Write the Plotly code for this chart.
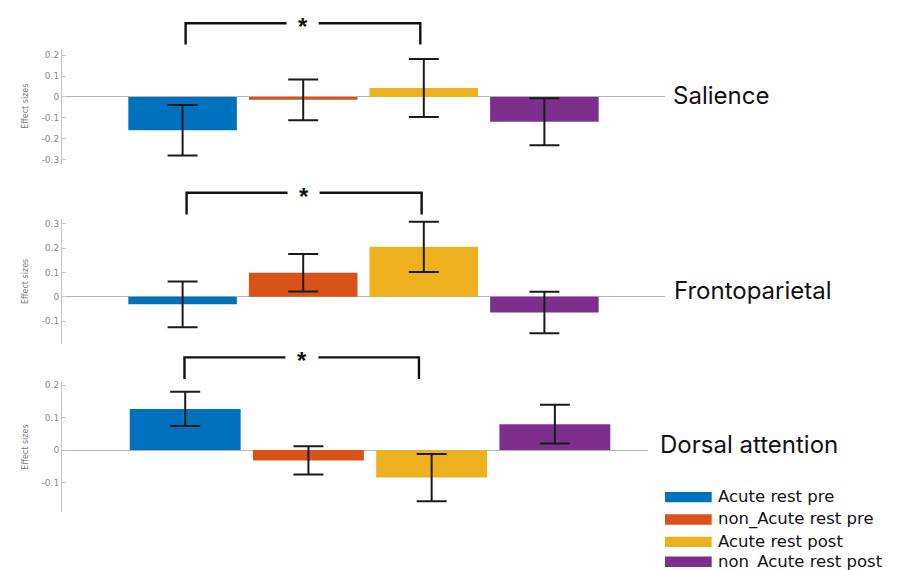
import plotly.graph_objects as go

W, H = 911, 570

# ---------------- data ----------------
groups = ["Acute rest pre", "non_Acute rest pre", "Acute rest post", "non_Acute rest post"]
legend_labels = ["Acute rest pre", "non_Acute rest pre", "Acute rest post", "non_Acute rest post"]
colors = ["#0072BD", "#D95319", "#EDB120", "#7E2F8E"]
networks = ["Salience", "Frontoparietal", "Dorsal attention"]

salience_vals = [-0.160, -0.014, 0.043, -0.119]
salience_err = [0.121, 0.098, 0.139, 0.113]
fronto_vals = [-0.031, 0.099, 0.205, -0.065]
fronto_err = [0.094, 0.077, 0.103, 0.085]
dorsal_vals = [0.127, -0.032, -0.085, 0.080]
dorsal_err = [0.053, 0.0435, 0.073, 0.060]

salience_ticks = [0.2, 0.1, 0, -0.1, -0.2, -0.3]
fronto_ticks = [0.3, 0.2, 0.1, 0, -0.1]
dorsal_ticks = [0.2, 0.1, 0, -0.1]

significance = ["*", "*", "*"]
# ---------------------------------------

def px_x(p):
    return p / W

def px_y(p):
    return 1 - p / H

panels = [
    dict(name=networks[0], vals=salience_vals, err=salience_err, ticks=salience_ticks,
         xdom=(62, 665), ydom=(47, 162.7), yrange=(-0.321, 0.231), xrange=(-1, 4),
         label_x=672.5, label_y=94,
         br=dict(xl=0.025, xr=1.971, gl=0.862, gr=1.128, sx=0.995, ytop=21.3, ybot=42.7)),
    dict(name=networks[1], vals=fronto_vals, err=fronto_err, ticks=fronto_ticks,
         xdom=(62, 665), ydom=(218, 344), yrange=(-0.195, 0.320), xrange=(-1, 4),
         label_x=673, label_y=290.5,
         br=dict(xl=0.033, xr=1.982, gl=0.87, gr=1.136, sx=1.003, ytop=191.7, ybot=213.5)),
    dict(name=networks[2], vals=dorsal_vals, err=dorsal_err, ticks=dorsal_ticks,
         xdom=(62, 648), ydom=(382, 513), yrange=(-0.192, 0.210), xrange=(-1, 3.756),
         label_x=659.3, label_y=445.3,
         br=dict(xl=-0.006, xr=1.897, gl=0.813, gr=1.081, sx=0.949, ytop=357.3, ybot=379)),
]

fig = go.Figure()
shapes = []
annotations = []
layout_axes = {}

for i, p in enumerate(panels):
    n = i + 1
    xa = "x" if n == 1 else f"x{n}"
    ya = "y" if n == 1 else f"y{n}"
    xkey = "xaxis" if n == 1 else f"xaxis{n}"
    ykey = "yaxis" if n == 1 else f"yaxis{n}"

    fig.add_trace(go.Bar(
        x=list(range(len(groups))), y=p["vals"],
        marker=dict(color=colors, line=dict(width=0)),
        error_y=dict(type="data", array=p["err"], color="#1a1a1a", thickness=2, width=15),
        xaxis=xa, yaxis=ya, showlegend=False, name=p["name"],
        hovertext=groups,
    ))

    layout_axes[xkey] = dict(
        domain=[px_x(p["xdom"][0]), px_x(p["xdom"][1])],
        range=list(p["xrange"]), visible=False, anchor=ya, fixedrange=True,
    )
    layout_axes[ykey] = dict(
        domain=[px_y(p["ydom"][1]), px_y(p["ydom"][0])],
        range=list(p["yrange"]), anchor=xa,
        showline=True, linecolor="#c4c4c4", linewidth=1,
        ticks="inside", ticklen=4, tickcolor="#c4c4c4", tickwidth=1,
        tickvals=p["ticks"], ticktext=[f"{v:g}" for v in p["ticks"]],
        tickfont=dict(family="DejaVu Sans", size=9, color="#8a8a8a"),
        showgrid=False, zeroline=True, zerolinecolor="#b4b4b4", zerolinewidth=1,
    )

    # y axis title
    annotations.append(dict(
        text="Effect sizes", textangle=-90, xref="paper", yref="paper",
        x=px_x(25.5), y=px_y((p["ydom"][0] + p["ydom"][1]) / 2),
        xanchor="center", yanchor="middle", showarrow=False,
        font=dict(family="DejaVu Sans", size=8, color="#7a7a7a"),
    ))

    # network label
    annotations.append(dict(
        text=p["name"], xref="paper", yref="paper",
        x=px_x(p["label_x"] - 1.5), y=px_y(p["label_y"]),
        xanchor="left", yanchor="middle", showarrow=False,
        font=dict(family="Inter", size=24, color="#111111"),
    ))

    # significance bracket (between group 0 and group 2)
    b = p["br"]
    yt, yb = px_y(b["ytop"]), px_y(b["ybot"])
    shapes.append(dict(
        type="path", xref=xa, yref="paper",
        path=f"M {b['xl']},{yb} L {b['xl']},{yt} L {b['gl']},{yt}",
        line=dict(color="#111111", width=2.4),
    ))
    shapes.append(dict(
        type="path", xref=xa, yref="paper",
        path=f"M {b['gr']},{yt} L {b['xr']},{yt} L {b['xr']},{yb}",
        line=dict(color="#111111", width=2.4),
    ))
    annotations.append(dict(
        text=f"<b>{significance[i]}</b>", xref=xa, yref="paper",
        x=b["sx"], y=px_y(b["ytop"] + 3.5),
        xanchor="center", yanchor="middle", showarrow=False,
        font=dict(family="Liberation Sans", size=24, color="#111111"),
    ))

# manual legend
leg_x0, leg_x1 = 665, 711.7
leg_rows = [492.5, 515, 537.5, 557.5]
for c, lab, top in zip(colors, legend_labels, leg_rows):
    shapes.append(dict(
        type="rect", xref="paper", yref="paper",
        x0=px_x(leg_x0), x1=px_x(leg_x1), y0=px_y(min(top + 10.5, H)), y1=px_y(top),
        fillcolor=c, line=dict(width=0),
    ))
    annotations.append(dict(
        text=lab, xref="paper", yref="paper",
        x=px_x(715.5), y=px_y(top + 5.0),
        xanchor="left", yanchor="middle", showarrow=False,
        font=dict(family="DejaVu Sans", size=16.5, color="#111111"),
    ))

fig.update_layout(
    width=W, height=H,
    margin=dict(l=0, r=0, t=0, b=0),
    paper_bgcolor="white", plot_bgcolor="white",
    bargap=0.1,
    shapes=shapes, annotations=annotations,
    showlegend=False,
    **layout_axes,
)

fig.write_html(
    "out.html",
    config={"displayModeBar": False},
    post_script="document.body.style.margin='0';document.body.style.padding='0';document.body.style.overflow='hidden';",
)
